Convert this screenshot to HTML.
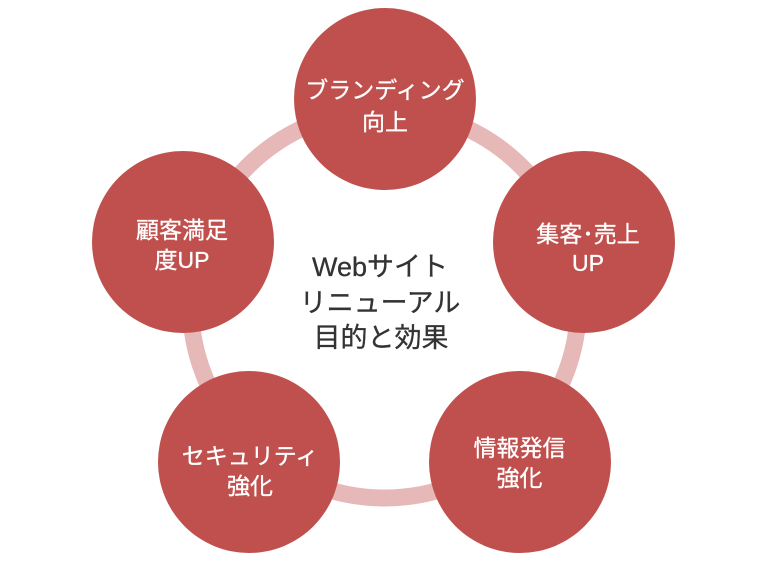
<!DOCTYPE html>
<html>
<head>
<meta charset="utf-8">
<style>
  html,body{margin:0;padding:0;background:#ffffff;}
  body{width:768px;height:569px;overflow:hidden;}
  svg{display:block;}
  text{font-family:"Liberation Sans","Noto Sans CJK JP",sans-serif;}
</style>
</head>
<body>
<svg width="768" height="569" viewBox="0 0 768 569" xmlns="http://www.w3.org/2000/svg">
  <rect width="768" height="569" fill="#ffffff"/>
  <!-- ring -->
  <circle cx="384.5" cy="304" r="194" fill="none" stroke="#e6b8b7" stroke-width="17"/>
  <!-- nodes -->
  <g fill="#c0504d">
    <circle cx="385" cy="99" r="91"/>
    <circle cx="584" cy="242" r="91"/>
    <circle cx="183" cy="242" r="91"/>
    <circle cx="249" cy="462" r="91"/>
    <circle cx="520" cy="462" r="91"/>
  </g>
  <!-- center text -->
  <g fill="#333333" stroke="#333333" stroke-width="0.3" font-size="27" text-anchor="middle">
    <text x="380" y="276">Webサイト</text>
    <text x="380" y="312">リニューアル</text>
    <text x="381" y="347">目的と効果</text>
  </g>
  <!-- node labels -->
  <g fill="#ffffff" stroke="#ffffff" stroke-width="0.3" font-size="23" text-anchor="middle">
    <text x="385" y="98">ブランディング</text>
    <text x="385" y="130">向上</text>

    <text x="588" y="242">集客･売上</text>
    <text x="588" y="271">UP</text>

    <text x="182" y="238">顧客満足</text>
    <text x="182" y="268">度UP</text>

    <text x="250" y="464">セキュリティ</text>
    <text x="250" y="494">強化</text>

    <text x="519.5" y="456">情報発信</text>
    <text x="519.5" y="486">強化</text>
  </g>
</svg>
</body>
</html>
